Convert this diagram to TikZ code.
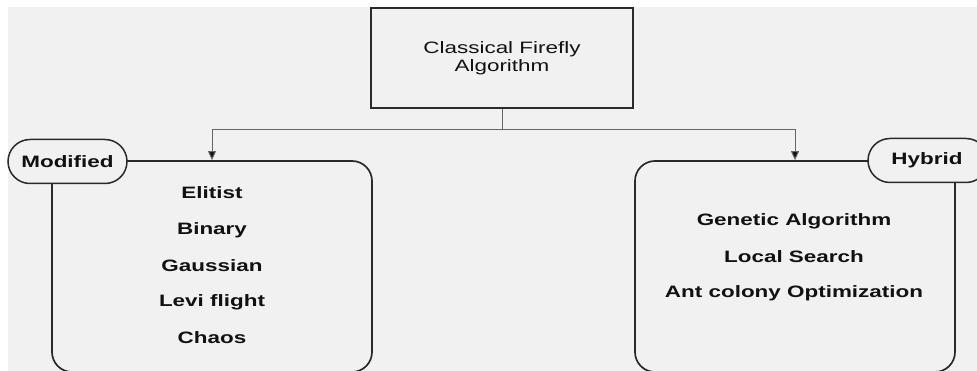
\documentclass[tikz,border=0pt]{standalone}
\usepackage{fontspec}
\setmainfont{Liberation Sans}[FakeStretch=1.36]
\usetikzlibrary{arrows.meta}
\definecolor{bgc}{HTML}{F1F1F1}
\definecolor{ink}{HTML}{111111}
\definecolor{edge}{HTML}{2A2A2A}
\definecolor{conc}{HTML}{666666}
\tikzset{
  topbox/.style={draw=edge, line width=1.8pt, fill=bgc, minimum width=262pt, minimum height=100pt, align=center, font=\fontsize{16.5}{18}\selectfont, text=ink, inner sep=0pt},
  bigbox/.style={draw=edge, line width=1.7pt, rounded corners=20pt, minimum width=320pt, minimum height=211pt, inner sep=0pt},
  tag/.style={draw=edge, line width=1.5pt, fill=bgc, rounded corners=22pt, minimum height=44pt, inner sep=0pt, font=\fontsize{16.5}{18}\selectfont\bfseries, text=ink},
  item/.style={font=\fontsize{16.5}{18}\selectfont\bfseries, text=ink, inner sep=0pt},
  conn/.style={draw=conc, line width=1pt},
  arr/.style={conn, -{Triangle[length=9pt,width=8pt,fill=ink]}}
}
\begin{document}
\begin{tikzpicture}[x=1pt,y=-1pt]
\useasboundingbox (0,0) rectangle (977,371);
\fill[white] (0,0) rectangle (977,371);
\fill[bgc] (8,7) rectangle (977,371);
\clip (0,0) rectangle (977,371);

\node[topbox] (top) at (502,58) {Classical Firefly\\Algorithm};

\node[bigbox] (lbox) at (212,266.5) {};
\node[bigbox] (rbox) at (795,266.5) {};

\node[tag, minimum width=119pt] (mod) at (67.5,161.5) {Modified};
\node[tag, minimum width=120pt] (hyb) at (928,160.5) {\hspace*{-2pt}Hybrid};

\coordinate (j) at (502,130);
\draw[conn] (top.south) -- (j);
\draw[arr] (j) -| (lbox.north);
\draw[arr] (j) -| (rbox.north);

\node[item] (e1) at (212,193) {Elitist};
\node[item] (e2) at (212,230) {Binary};
\node[item] (e3) at (212,266) {Gaussian};
\node[item] (e4) at (212,302) {Levi flight};
\node[item] (e5) at (212,338) {Chaos};

\node[item] (h1) at (794,221) {Genetic Algorithm};
\node[item] (h2) at (794,257) {Local Search};
\node[item] (h3) at (794,293) {Ant colony Optimization};
\end{tikzpicture}
\end{document}
